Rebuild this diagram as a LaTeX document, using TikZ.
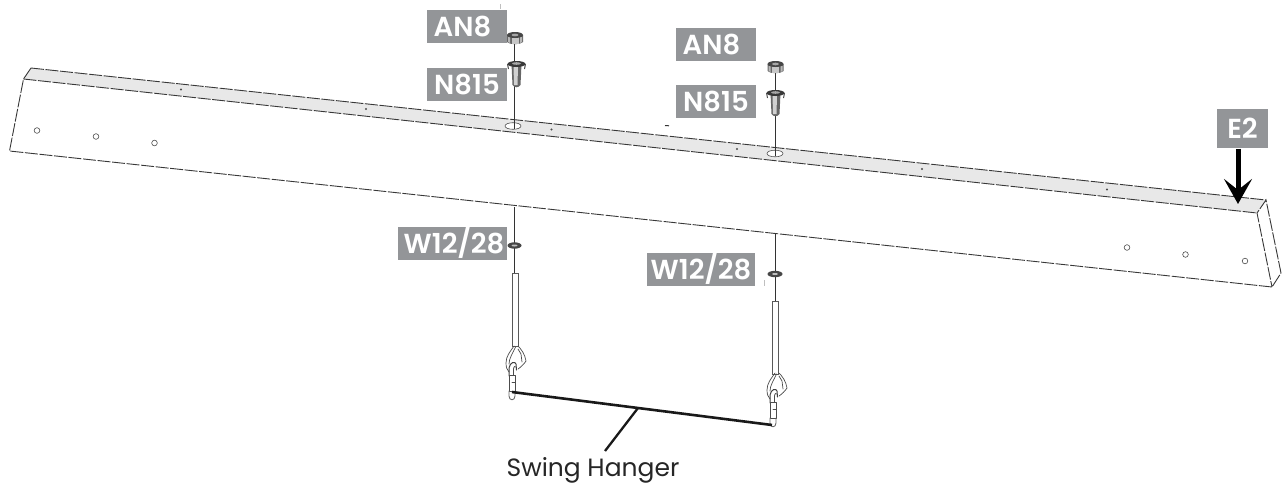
\documentclass[tikz,border=0pt]{standalone}
\usepackage{fontspec}
\setmainfont{Poppins}
\newfontfamily\tagfont{Poppins SemiBold}
\usetikzlibrary{arrows.meta}
\definecolor{taggray}{HTML}{939598}
\definecolor{topgray}{HTML}{E8E8E8}
\tikzset{
  tagbox/.style={fill=taggray,text=white,font=\tagfont\fontsize{27.5}{27.5}\selectfont,inner sep=0pt,anchor=center,minimum height=33pt},
  edge/.style={line width=0.9pt,dash pattern=on 13pt off 1.6pt,draw=black!78},
  hole/.style={line width=0.6pt,draw=black!70,fill=white},
  rod/.style={line width=1pt,draw=black!80},
  tube/.style={line width=0.8pt,draw=black!65,fill=white},
  lead/.style={line width=2.3pt,draw=black!90}
}
% hex nut; origin on the rod axis at the nut's top
\newcommand{\hardware}[2]{%
  \begin{scope}[shift={(#1,#2)}]
    \fill[black!60] (-8,3) -- (-8,10) .. controls (-5,13) and (5,13) .. (8,10) -- (8,3) -- cycle;
    \fill[black!22] (-3.5,5) -- (3.5,5) -- (3.5,12) -- (-3.5,12) -- cycle;
    \fill[black!28] (5,5) -- (7,5) -- (7,10) -- (5,11) -- cycle;
    \fill[black!28] (-7,5) -- (-5,5) -- (-5,11) -- (-7,10) -- cycle;
    \fill[black!72] (0,3) ellipse (8 and 3);
    \fill[black!35] (0,3) ellipse (3.5 and 1.3);
  \end{scope}}
% flanged bushing; origin on the rod axis at the flange's top
\newcommand{\bushing}[2]{%
  \begin{scope}[shift={(#1,#2)}]
    \fill[black!60] (-5,3) -- (5,3) -- (4,24) .. controls (2,27) and (-2,27) .. (-4,24) -- cycle;
    \fill[black!18] (-3,5) -- (1.5,5) -- (1,24) -- (-2.5,24) -- cycle;
    \fill[black!78] (0,3) ellipse (9 and 3);
    \fill[black!35] (0,2.5) ellipse (4.5 and 1.3);
    \draw[line width=1pt,black!70] (-9,3) -- (-8,8) (9,3) -- (8,8);
  \end{scope}}
% loop and hook under a tube; origin at the loop's top
\newcommand{\hookpart}[2]{%
  \begin{scope}[shift={(#1,#2)},line cap=round,line join=round]
    \draw[line width=0.7pt,black!70] (-2,0) .. controls (-6,6) and (-10,10) .. (-10,17) .. controls (-10,21) and (-9,24) .. (-7,26);
    \draw[line width=0.7pt,black!70] (-0.5,1) .. controls (-3,7) and (-7,12) .. (-7,18);
    \draw[line width=0.7pt,black!70] (2,0) .. controls (5,3) and (9,8) .. (10,15) .. controls (8,18) and (5,21) .. (2,23);
    \draw[line width=0.7pt,black!70] (2,3) -- (5,8) -- (6,16);
    \draw[line width=1pt,black!75] (-7,30) -- (-7,22) .. controls (-6,16) and (-1,15) .. (0,18) -- (0.5,24);
    \draw[line width=0.8pt,black!70] (-2.5,30) -- (-2.5,23) .. controls (-2,20) and (-1,20) .. (-0.5,21);
    \draw[line width=0.8pt,black!70,fill=white] (-7,29) rectangle (-1,45);
    \draw[line width=0.8pt,black!70] (-4,36) -- (-1,36);
    \draw[line width=0.9pt,black!60] (-7,45) -- (-7,50) .. controls (-7,55) and (-1,55) .. (-1,50) -- (-1,45);
  \end{scope}}
\begin{document}
\begin{tikzpicture}[x=1pt,y=-1pt]
\useasboundingbox (0,0) rectangle (1287,490);
% beam
\coordinate (bl) at (31,68);
\coordinate (fl) at (23.5,79);
\coordinate (ll) at (9.5,151);
\coordinate (br) at (1266,200);
\coordinate (fr) at (1257,213);
\coordinate (lr) at (1272,287);
\coordinate (lb) at (1281,273);
\fill[topgray] (bl) -- (br) -- (fr) -- (fl) -- cycle;
\draw[edge] (bl) -- (br);
\draw[edge] (fl) -- (fr);
\draw[edge] (bl) -- (fl) -- (ll) -- (lr) -- (lb) -- (br) -- (fr) -- (lr);
% holes on the front face
\foreach \hx/\hy in {37/130.5,96/136.5,154.5/143,1127/247.5,1185.5/254.5,1245/261}
  \draw[hole] (\hx,\hy) circle (2.8);
% small dots on the top face
\foreach \hx/\hy in {181/89.5,366/109,551.5/129.5,737/149,922/169,1107/189.5}
  \fill[black!70] (\hx,\hy) circle (1.2);
\draw[line width=1pt,black!80] (665,125.5) -- (669,125.8);
% large holes
\draw[hole] (513,126) ellipse (8 and 3.3);
\draw[hole] (775,153.5) ellipse (8 and 3.3);
% upper rods and hardware
\draw[rod] (514.5,42) -- (514.5,129);
\draw[rod] (775,70) -- (775,156);
\hardware{515}{32}
\hardware{775.5}{61}
\bushing{516.5}{61}
\bushing{775.5}{90}
% lower rods
\draw[rod] (514,207) -- (514,273);
\draw[rod] (775,234) -- (775,302);
\fill[black!72] (514.5,245.5) ellipse (7 and 3.2);
\fill[black!25] (514.5,245.5) ellipse (3 and 1);
\fill[black!72] (775,274) ellipse (7.5 and 3.2);
\fill[black!25] (775,274) ellipse (3 and 1);
% tubes
\draw[tube] (512.5,273) rectangle (518,346);
\draw[tube] (772,301.5) rectangle (778,374);
\hookpart{516}{346}
\hookpart{777}{373}
% swing hanger bar and leader
\coordinate (hangerL) at (512,392);
\coordinate (hangerR) at (772,425);
\coordinate (hangerM) at (638,408);
\coordinate (hangerT) at (605,451);
\draw[line width=2.6pt,black!90] (hangerL) -- (hangerR);
\draw[lead] (hangerM) -- (hangerT);
\node[font=\fontsize{25}{25}\selectfont,text=black!85,inner sep=0pt] (swing) at (593,470) {Swing Hanger};
% faint specks
\draw[line width=0.4pt,black!25] (500,4) -- (500,9);
\draw[line width=0.4pt,black!25] (764,280) -- (764,286);
% tags
\node[tagbox,minimum width=80pt] (an1) at (467,26.5) {AN8\rule{9pt}{0pt}};
\node[tagbox,minimum width=80pt] (n1) at (467,84.5) {N815};
\node[tagbox,minimum width=80pt] (an2) at (716,44.5) {AN8\rule{9pt}{0pt}};
\node[tagbox,minimum width=80pt] (n2) at (716,101.5) {N815};
\node[tagbox,minimum width=109pt] (w1) at (452.5,243) {\rule{3pt}{0pt}W12/28};
\node[tagbox,minimum width=108pt] (w2) at (701,269) {W12/28};
\node[tagbox,minimum width=51pt,minimum height=39pt] (e2) at (1242.5,128) {E2};
% E2 arrow
\coordinate (e2tip) at (1238,204);
\draw[line width=5pt,black,-{Stealth[length=25pt,width=28pt,inset=11pt]},shorten <=1pt] (e2.south -| e2tip) -- (e2tip);
\end{tikzpicture}
\end{document}
